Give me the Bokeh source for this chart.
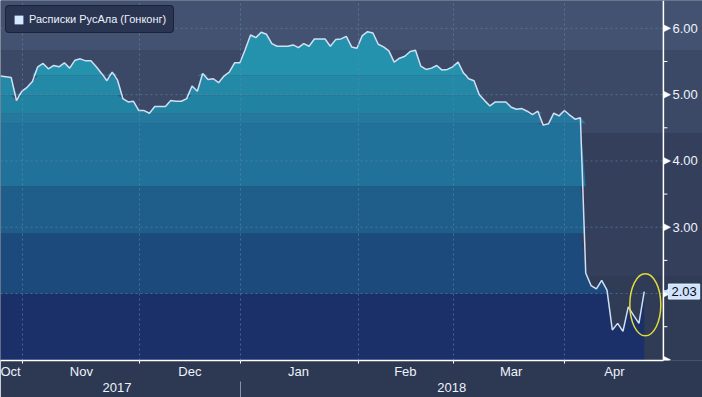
import numpy as np
from bokeh.plotting import figure
from bokeh.core.properties import value
from bokeh.models import (FixedTicker, LinearAxis, Range1d, Label, Arrow, NormalHead,
                          Legend, LegendItem, BoxAnnotation, Span)
from bokeh.embed import file_html
from bokeh.resources import INLINE

# ---- data (trading-day index based) ----
series_name = "Расписки РусАла (Гонконг)"
values = [5.28, 5.27, 5.26, 4.91, 5.05, 5.11, 5.20, 5.42, 5.47, 5.39,
          5.44, 5.42, 5.48, 5.40, 5.52, 5.54, 5.51, 5.51, 5.42, 5.32,
          5.21, 5.34, 5.22, 4.94, 4.89, 4.90, 4.76, 4.76, 4.72, 4.82,
          4.82, 4.82, 4.91, 4.90, 4.90, 4.94, 5.13, 5.05, 5.32, 5.23,
          5.24, 5.18, 5.28, 5.34, 5.48, 5.48, 5.68, 5.90, 5.86, 5.94,
          5.91, 5.77, 5.73, 5.73, 5.73, 5.75, 5.71, 5.77, 5.73, 5.84,
          5.84, 5.84, 5.73, 5.83, 5.84, 5.88, 5.72, 5.70, 5.89, 5.95,
          5.93, 5.76, 5.72, 5.66, 5.49, 5.55, 5.58, 5.65, 5.67, 5.43,
          5.38, 5.40, 5.44, 5.37, 5.38, 5.42, 5.49, 5.33, 5.24, 5.21,
          5.00, 4.91, 4.83, 4.89, 4.89, 4.89, 4.81, 4.78, 4.79, 4.75,
          4.70, 4.75, 4.54, 4.56, 4.72, 4.68, 4.76, 4.69, 4.63, 4.65,
          2.31, 2.12, 2.07, 2.20, 2.05, 1.45, 1.55, 1.43, 1.80, 1.67,
          1.55, 2.03]

month_bounds = [4.2, 26.2, 45.1, 67.2, 85.1, 106.0]
month_label_pos = [1.5, 15.2, 35.6, 56.0, 76.1, 96.0, 115.4]
month_labels = ["Oct", "Nov", "Dec", "Jan", "Feb", "Mar", "Apr"]
year_label_pos = [21.9, 84.8]
year_labels = ["2017", "2018"]
year_bounds = [45.1]
y_ticks = [1, 2, 3, 4, 5, 6]
y_label_ticks = [3, 4, 5, 6]
y_tick_labels = ["3.00", "4.00", "5.00", "6.00"]
y_grid = [2, 3, 4, 5, 6]
y_minor = [1.5, 2.5, 3.5, 4.5, 5.5]

# fill bands of the area (value boundaries) and colours
band_edges = [0.0, 2.0, 2.91, 3.62, 4.57, 4.72, 4.99, 5.29, 7.0]
band_colors = ["#1b2f69", "#1c4a7c", "#1f5d8a", "#21729a", "#26799e",
               "#2282a2", "#2389a7", "#2592ad"]
# background bands
bg_edges = [0.0, 2.26, 4.42, 5.67, 7.0]
bg_colors = ["#303b56", "#343f5b", "#3c4966", "#435270"]

X_START, AXIS_X, X_END = 0.0, 124.6, 131.95
Y_START, Y_END = 0.99, 6.42
FONT = "Liberation Sans"
TXT = "#eef3fa"

idx = np.arange(len(values))
v = np.array(values)

p = figure(width=702, height=397, output_backend="svg", toolbar_location=None,
           x_range=Range1d(X_START, X_END), y_range=Range1d(Y_START, Y_END),
           min_border_left=0, min_border_top=0, min_border_right=0,
           min_border_bottom=37, border_fill_color="#2d3853",
           background_fill_color="#303b56", outline_line_color=None)
p.yaxis.visible = False
p.ygrid.visible = False

for lo, hi, c in zip(bg_edges[:-1], bg_edges[1:], bg_colors):
    p.add_layout(BoxAnnotation(bottom=lo, top=hi, fill_color=c, fill_alpha=1,
                               line_alpha=0, level="underlay"))

# banded area fill
for lo, hi, c in zip(band_edges[:-1], band_edges[1:], band_colors):
    top = np.clip(v, lo, hi)
    p.varea(x=idx, y1=np.full(len(v), lo), y2=top, fill_color=c, fill_alpha=1)

# horizontal dotted grid, ending at the value axis
p.segment(x0=[X_START] * len(y_grid), y0=y_grid, x1=[AXIS_X] * len(y_grid), y1=y_grid,
          line_color="#5a8cae", line_alpha=0.6, line_dash="2 3", line_width=1)

p.line(idx, v, line_color="#cfe0f5", line_width=1.5)

# highlight ellipse around the latest points
tail = v[-4:]
p.ellipse(x=[idx[-1] + 0.2], y=[(tail.min() + tail.max()) / 2 + 0.04], width=31, height=62,
          width_units="screen", height_units="screen", fill_alpha=0,
          line_color="#e2db3a", line_width=1.5)

# vertical grid
p.xgrid.grid_line_color = "#5a8cae"
p.xgrid.grid_line_alpha = 0.6
p.xgrid.grid_line_dash = "2 3"
p.xgrid.level = "annotation"
p.xgrid.ticker = FixedTicker(ticks=month_bounds)

# x axis: months
xa = p.xaxis[0]
xa.bounds = (X_START, AXIS_X)
xa.ticker = FixedTicker(ticks=month_label_pos, minor_ticks=month_bounds)
xa.major_label_overrides = dict(zip(month_label_pos, month_labels))
xa.major_tick_out = 0
xa.major_tick_in = 0
xa.minor_tick_out = 3
xa.minor_tick_in = 0
xa.minor_tick_line_color = "white"
xa.axis_line_color = "white"
xa.axis_line_width = 1.5
xa.major_label_standoff = 0
xa.axis_label_standoff = 0
xa.major_label_text_color = TXT
xa.major_label_text_font = FONT
xa.major_label_text_font_size = "13px"

# x axis: years
xa2 = LinearAxis(ticker=FixedTicker(ticks=year_label_pos, minor_ticks=year_bounds),
                 major_label_overrides=dict(zip(year_label_pos, year_labels)),
                 axis_line_color=None, major_tick_line_color=None,
                 minor_tick_out=17, minor_tick_in=0, minor_tick_line_color="#8893a6",
                 major_label_standoff=-16, axis_label_standoff=0,
                 major_label_text_color=TXT,
                 major_label_text_font=FONT, major_label_text_font_size="13px")
p.add_layout(xa2, "below")

# value axis on the right (drawn inside the extended frame)
p.add_layout(Span(location=AXIS_X, dimension="height", line_color="white", line_width=1.5))
p.segment(x0=[AXIS_X] * len(y_minor), y0=y_minor, x1=[AXIS_X + 0.75] * len(y_minor),
          y1=y_minor, line_color="white", line_width=1)
ARROW_LEN = 1.35
for t in y_ticks:
    p.add_layout(Arrow(x_start=AXIS_X, x_end=AXIS_X + ARROW_LEN, y_start=t, y_end=t,
                       line_alpha=0,
                       end=NormalHead(size=7, fill_color="white", line_color="white",
                                      line_width=0.5)))
p.text(x=[AXIS_X] * len(y_label_ticks), y=y_label_ticks, text=y_tick_labels,
       x_offset=9, text_baseline="middle", text_align="left", text_color=TXT,
       text_font=value(FONT), text_font_size="13px")

# last value tag
last = values[-1]
p.add_layout(Arrow(x_start=AXIS_X + 1.2, x_end=AXIS_X + 0.1, y_start=last, y_end=last,
                   line_alpha=0,
                   end=NormalHead(size=7, fill_color="#cfe2ff", line_color="#cfe2ff")))
tag_kw = dict(x=AXIS_X, y=last, x_offset=5, text=f"{last:.2f}", text_baseline="middle",
              text_align="left", text_color="#0b0b0b", text_font=FONT,
              text_font_size="13px", background_fill_color="#cfe2ff",
              border_line_color="#e8f1ff")
if "padding" in Label.properties():
    tag_kw["padding"] = 3
p.add_layout(Label(**tag_kw))

# legend
r_leg = p.quad(left=[np.nan], right=[np.nan], top=[np.nan], bottom=[np.nan],
               fill_color="#d6e8ff", line_color=None)
leg = Legend(items=[LegendItem(label=series_name, renderers=[r_leg])],
             location="top_left", margin=5, padding=7,
             background_fill_color="#2a3552", background_fill_alpha=1,
             border_line_color="#0b1020", border_line_width=1.5,
             label_text_color=TXT, label_text_font=FONT, label_text_font_size="11px",
             glyph_width=11, glyph_height=11, label_standoff=5, label_height=12)
if "border_radius" in Legend.properties():
    leg.border_radius = 4
p.add_layout(leg)

open("out.html", "w").write(file_html(p, INLINE))
